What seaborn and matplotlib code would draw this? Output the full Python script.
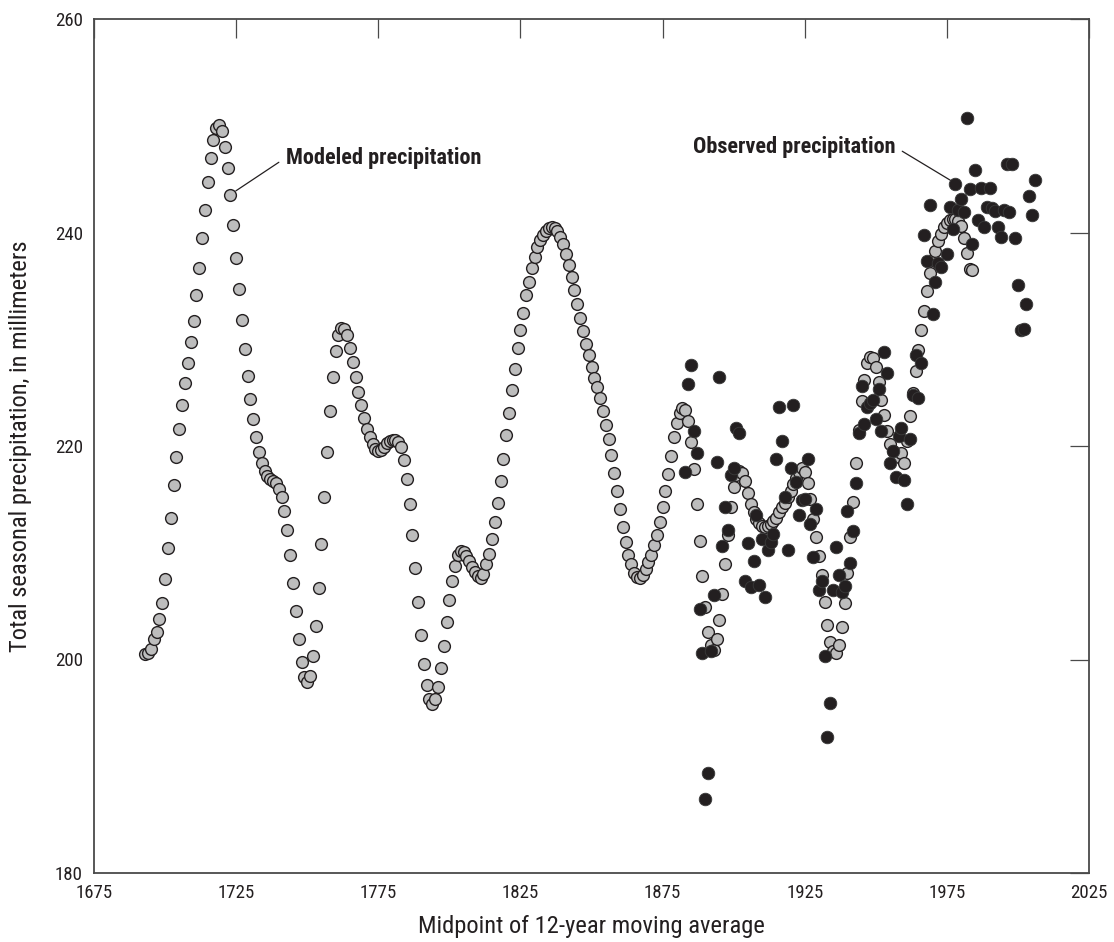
import os
import numpy as np
import pandas as pd
import seaborn as sns
import matplotlib
matplotlib.use("Agg")
import matplotlib.pyplot as plt
from matplotlib import font_manager as fm

# ---- data -------------------------------------------------------------
model_start = 1693
model_values = [
    200.5, 200.6, 201.0, 201.9, 202.6, 203.8, 205.3, 207.5, 210.4, 213.3,   # 1693-1702
    216.3, 219.0, 221.6, 223.8, 225.9, 227.8, 229.7, 231.7, 234.1, 236.7,   # 1703-1712
    239.5, 242.1, 244.7, 247.0, 248.7, 249.8, 250.1, 249.5, 248.0, 246.0,   # 1713-1722
    243.5, 240.7, 237.6, 234.7, 231.8, 229.1, 226.6, 224.4, 222.5, 220.8,   # 1723-1732
    219.4, 218.4, 217.7, 217.2, 216.9, 216.7, 216.5, 216.0, 215.2, 213.9,   # 1733-1742
    212.1, 209.8, 207.2, 204.5, 201.9, 199.8, 198.4, 197.9, 198.5, 200.3,   # 1743-1752
    203.1, 206.7, 210.8, 215.2, 219.4, 223.3, 226.5, 228.9, 230.4, 231.1,   # 1753-1762
    231.0, 230.4, 229.2, 227.9, 226.5, 225.1, 223.8, 222.6, 221.6, 220.8,   # 1763-1772
    220.2, 219.7, 219.5, 219.6, 219.9, 220.3, 220.5, 220.6, 220.6, 220.4,   # 1773-1782
    219.9, 218.7, 216.9, 214.6, 211.7, 208.6, 205.4, 202.3, 199.6, 197.6,   # 1783-1792
    196.3, 195.8, 196.3, 197.4, 199.2, 201.3, 203.5, 205.6, 207.4, 208.8,   # 1793-1802
    209.8, 210.2, 210.1, 209.7, 209.2, 208.7, 208.2, 207.8, 207.6, 208.0,   # 1803-1812
    208.9, 209.9, 211.3, 212.9, 214.7, 216.7, 218.8, 221.0, 223.1, 225.2,   # 1813-1822
    227.2, 229.2, 230.9, 232.5, 234.1, 235.4, 236.7, 237.7, 238.6, 239.3,   # 1823-1832
    239.8, 240.1, 240.4, 240.5, 240.4, 240.1, 239.6, 238.9, 238.0, 237.0,   # 1833-1842
    235.8, 234.6, 233.3, 232.0, 230.8, 229.6, 228.5, 227.4, 226.4, 225.5,   # 1843-1852
    224.5, 223.3, 222.0, 220.7, 219.2, 217.5, 215.8, 214.1, 212.4, 211.0,   # 1853-1862
    209.8, 208.9, 208.1, 207.7, 207.6, 207.9, 208.5, 209.1, 209.8, 210.7,   # 1863-1872
    211.7, 212.9, 214.3, 215.8, 217.4, 219.1, 220.8, 222.2, 223.1, 223.6,   # 1873-1882
    223.4, 222.3, 220.4, 217.8, 214.6, 211.1, 207.8, 204.9, 202.6, 201.4,   # 1883-1892
    200.9, 201.9, 203.7, 206.1, 208.9, 211.7, 214.3, 216.2, 217.3, 217.7,   # 1893-1902
    217.5, 216.7, 215.6, 214.6, 213.8, 213.2, 212.8, 212.5, 212.4, 212.5,   # 1903-1912
    212.7, 213.0, 213.3, 213.8, 214.3, 214.7, 215.2, 215.8, 216.4, 217.0,   # 1913-1922
    217.6, 217.9, 217.6, 216.5, 215.0, 213.2, 211.5, 209.7, 207.9, 205.4,   # 1923-1932
    203.2, 201.6, 200.8, 200.6, 201.4, 203.0, 205.3, 208.1, 211.5, 214.8,   # 1933-1942
    218.4, 221.5, 224.2, 226.2, 227.8, 228.3, 228.2, 227.4, 226.0, 224.3,   # 1943-1952
    222.9, 221.4, 220.2, 219.5, 219.1, 219.0, 219.3, 218.4, 220.5, 222.8,   # 1953-1962
    225.0, 227.0, 229.0, 230.9, 232.6, 234.5, 236.2, 237.4, 238.3, 239.2,   # 1963-1972
    239.9, 240.5, 240.9, 241.2, 241.3, 241.3, 241.1, 240.6, 239.5, 238.1,   # 1973-1982
    236.6, 236.5,                                                           # 1983-1984
]
model_years = list(range(model_start, model_start + len(model_values)))

obs_years = [
    1883, 1884, 1885, 1886, 1887, 1888, 1889, 1890, 1891, 1892,
    1893, 1894, 1895, 1896, 1897, 1898, 1899, 1900, 1901, 1902,
    1904, 1905, 1906, 1907, 1908, 1909, 1910, 1911, 1912, 1913,
    1914, 1915, 1916, 1917, 1918, 1919, 1920, 1921, 1922, 1923,
    1924, 1925, 1926, 1927, 1928, 1929, 1930, 1931, 1932, 1933,
    1934, 1935, 1936, 1937, 1938, 1939, 1940, 1941, 1942, 1943,
    1944, 1945, 1946, 1947, 1948, 1949, 1950, 1951, 1952, 1953,
    1954, 1955, 1956, 1957, 1958, 1959, 1960, 1961, 1962, 1963,
    1964, 1965, 1966, 1967, 1968, 1969, 1970, 1971, 1972, 1973,
    1975, 1976, 1977, 1978, 1979, 1980, 1981, 1982, 1983, 1984,
    1985, 1986, 1987, 1988, 1989, 1990, 1991, 1992, 1993, 1994,
    1995, 1996, 1997, 1998, 1999, 2000, 2001, 2002, 2003, 2004,
    2005, 2006,
]
obs_values = [
    217.6, 225.8, 227.6, 221.4, 219.3, 204.7, 200.6, 186.9, 189.4, 200.8,
    206.0, 218.5, 226.5, 210.6, 214.3, 212.1, 217.3, 217.9, 221.7, 221.2,
    207.4, 210.9, 206.8, 209.2, 213.5, 207.0, 211.3, 205.9, 210.3, 211.0,
    211.8, 218.8, 223.7, 220.5, 215.2, 210.3, 217.9, 223.8, 216.6, 213.5,
    214.9, 215.0, 218.8, 212.7, 209.6, 214.1, 206.5, 207.4, 200.3, 192.7,
    195.9, 206.5, 210.5, 207.9, 206.3, 206.9, 213.9, 209.0, 212.0, 216.5,
    221.2, 225.6, 222.1, 223.7, 224.0, 224.3, 222.5, 225.3, 221.4, 228.8,
    226.8, 218.4, 219.5, 217.1, 220.9, 221.7, 216.8, 214.6, 220.7, 224.8,
    228.5, 224.5, 227.8, 239.8, 237.3, 242.6, 232.4, 235.4, 237.1, 236.8,
    238.0, 242.4, 240.3, 244.5, 242.1, 243.1, 241.9, 250.7, 244.1, 238.9,
    245.9, 241.2, 244.2, 240.5, 242.4, 244.2, 242.3, 242.0, 240.5, 239.6,
    242.1, 246.4, 241.9, 246.4, 239.5, 235.1, 230.9, 231.0, 233.3, 243.4,
    241.6, 244.9,
]

x_ticks = [1675, 1725, 1775, 1825, 1875, 1925, 1975, 2025]
y_ticks = [180, 200, 220, 240, 260]


# ---- fonts: prefer a condensed sans face, fall back to Liberation Sans ---
def pick_face(bold):
    want_weight = 700 if bold else 400
    skip = ("semi", "extra", "ultra", "mono", "light", "medium", "black", "thin")
    order = ["liberation", "roboto", "noto", "dejavu", "open", "lato"]
    best, best_score = None, None
    for f in fm.fontManager.ttflist:
        base = os.path.basename(f.fname).lower()
        if f.style != "normal" or "italic" in base or "oblique" in base:
            continue
        w = f.weight if isinstance(f.weight, int) else (700 if "bold" in str(f.weight) else 400)
        if abs(w - want_weight) > 50:
            continue
        name = f.name.lower()
        narrow = ("narrow" in base or "narrow" in name
                  or "condensed" in base or "condensed" in name)
        if not narrow:
            continue
        if any(k in base for k in skip):
            continue
        if "serif" in base.replace("sans", ""):
            continue
        score = next((i for i, k in enumerate(order) if k in base), 99)
        if best_score is None or score < best_score:
            best, best_score = f.fname, score
    if best is None:
        return fm.FontProperties(family="Liberation Sans",
                                 weight="bold" if bold else "normal")
    return fm.FontProperties(fname=best)


fp_reg = pick_face(False)
fp_bold = pick_face(True)

sns.set_theme(style="white")
plt.rcParams["font.family"] = ["Liberation Sans", "DejaVu Sans"]

ink = "#231f20"
frame = "#4a4a4a"

model_df = pd.DataFrame({"year": model_years, "precip": model_values})
obs_df = pd.DataFrame({"year": obs_years, "precip": obs_values})

fig = plt.figure(figsize=(11.14, 9.42), dpi=100)
ax = fig.add_axes([94 / 1114, 1 - 873 / 942, 995 / 1114, 854 / 942])

sns.scatterplot(data=model_df, x="year", y="precip", ax=ax, s=72,
                color="#bdbdbd", edgecolor=ink, linewidth=1.0, zorder=2,
                legend=False)
sns.scatterplot(data=obs_df, x="year", y="precip", ax=ax, s=82,
                color=ink, edgecolor="#3a3a3a", linewidth=0.6, zorder=3,
                legend=False)

ax.set_xlim(1675, 2025)
ax.set_ylim(180, 260)
ax.set_xticks(x_ticks)
ax.set_yticks(y_ticks)
ax.set_xticklabels([str(v) for v in x_ticks])
ax.set_yticklabels([str(v) for v in y_ticks])

for side in ["left", "right", "top", "bottom"]:
    ax.spines[side].set_visible(True)
    ax.spines[side].set_color(frame)
    ax.spines[side].set_linewidth(1.3)

ax.tick_params(axis="both", which="major", direction="in", length=13.5,
               width=0.9, color=frame, labelcolor=ink,
               top=True, right=True, pad=8)
ax.tick_params(axis="x", labeltop=False)
ax.tick_params(axis="y", labelright=False)
ax.grid(False)

# font sizes chosen so that text widths come out at the intended pixels
fig.canvas.draw()
renderer = fig.canvas.get_renderer()


def size_for(text, fp, target_px):
    probe = fig.text(0, 0, text, fontproperties=fp, fontsize=20)
    w = probe.get_window_extent(renderer).width
    probe.remove()
    return 20 * target_px / w


tick_size = size_for("1675", fp_reg, 37)
label_size = size_for("Midpoint of 12-year moving average", fp_reg, 345)
note_size = size_for("Modeled precipitation", fp_bold, 195)

for lab in ax.get_xticklabels() + ax.get_yticklabels():
    lab.set_fontproperties(fp_reg)
    lab.set_fontsize(tick_size)
    lab.set_color(ink)

ax.set_xlabel("Midpoint of 12-year moving average", fontproperties=fp_reg,
              fontsize=label_size, color=ink, labelpad=9)
ax.set_ylabel("Total seasonal precipitation, in millimeters",
              fontproperties=fp_reg, fontsize=label_size, color=ink)
ax.yaxis.set_label_coords(-0.062, 0.5)

# ---- annotations ------------------------------------------------------
ax.annotate("Modeled precipitation", xy=(1724.9, 243.9),
            xytext=(1742.4, 247.0), fontproperties=fp_bold,
            fontsize=note_size, color=ink, ha="left", va="center",
            arrowprops=dict(arrowstyle="-", color=ink, lw=0.9,
                            relpos=(0.0, 0.5), shrinkA=3, shrinkB=0))
ax.annotate("Observed precipitation", xy=(1976.2, 244.9),
            xytext=(1956.9, 248.0), fontproperties=fp_bold,
            fontsize=note_size, color=ink, ha="right", va="center",
            arrowprops=dict(arrowstyle="-", color=ink, lw=0.9,
                            relpos=(1.0, 0.5), shrinkA=3, shrinkB=0))

fig.savefig("out.png", dpi=100, facecolor="white")
